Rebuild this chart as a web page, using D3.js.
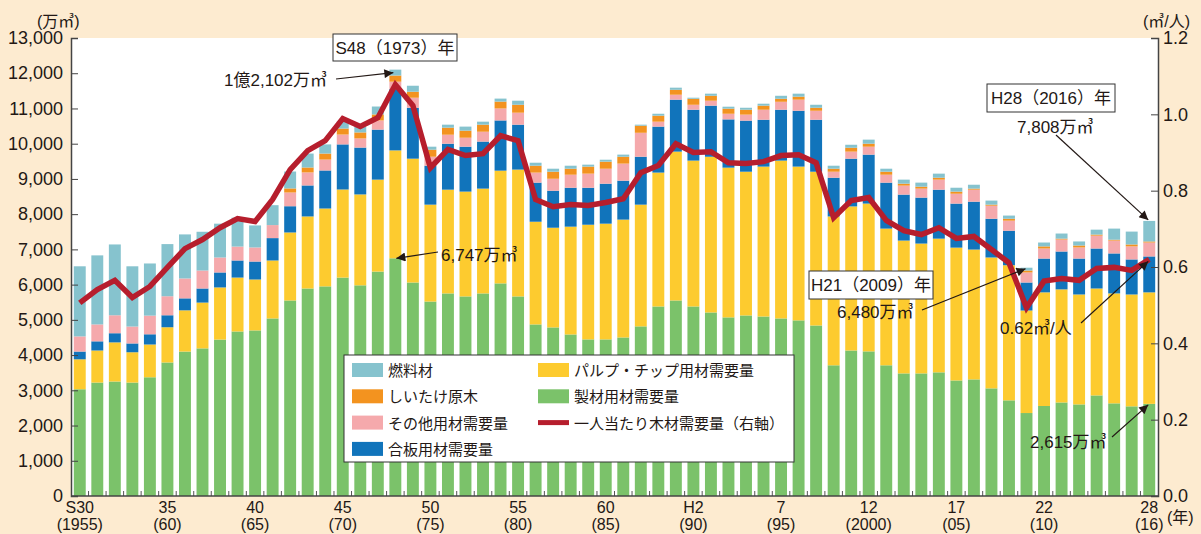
<!DOCTYPE html>
<html>
<head>
<meta charset="utf-8">
<script src="https://cdn.jsdelivr.net/npm/d3@7"></script>
<style>
  body { margin: 0; background: #fdebd0; }
  svg { display: block; font-family: "Liberation Sans", "Noto Sans CJK JP", sans-serif; }
</style>
</head>
<body>
<svg id="chart" width="1201" height="534"></svg>
<script>
// years S30(1955) .. H28(2016)
var years = d3.range(1955, 2017);

// 万m3
var seizai = [3030,3220,3250,3220,3370,3790,4100,4190,4440,4670,4700,5040,5550,5890,5950,6200,5980,6370,6747,6060,
  5520,5750,5665,5750,6035,5665,4870,4785,4585,4445,4445,4500,4815,5380,5550,5380,5210,5070,5125,5095,
  5040,4985,4840,3710,4130,4105,3710,3480,3480,3510,3280,3310,3055,2715,2355,2555,2655,2600,2855,2630,2545,2615];
var pulp = [850,910,1110,860,930,1000,1170,1300,1480,1530,1445,1645,1930,2045,2210,2500,2580,2610,3063,3515,
  2750,2945,2975,2975,3200,3600,2915,2830,3060,3255,3285,3345,3455,3800,4225,4140,4420,4250,4080,4255,
  4480,4365,4365,4225,4090,4195,3880,3770,3685,3795,3770,3685,3715,3835,2910,3225,3210,3120,3035,3120,3175,3165];
var goban = [220,260,260,250,290,340,340,400,425,485,510,635,745,880,1080,1280,1330,1420,1740,1445,
  1105,1305,1275,1335,1425,1275,1110,1050,1105,1050,1135,1105,1360,1305,1475,1445,1450,1370,1450,1330,
  1445,1585,1475,1100,1355,1390,1305,1305,1305,1390,1250,1360,1100,980,795,960,1075,1020,1135,1135,995,1020];
var sonota = [430,480,510,480,530,540,565,510,425,395,400,370,390,370,310,280,260,260,210,285,
  255,255,255,280,340,340,285,340,370,400,425,485,680,140,140,140,140,160,170,285,
  225,315,255,170,200,225,225,255,255,285,280,340,370,285,285,285,340,315,365,365,370,395];
var shiitake = [0,0,0,0,0,0,0,0,0,0,0,0,115,140,170,170,170,170,175,170,
  200,200,200,200,195,225,195,200,170,200,200,195,200,170,140,170,140,145,140,115,
  85,85,85,85,110,85,85,55,55,55,60,30,30,55,55,60,25,55,30,25,55,30];
var nenryo = [1990,1960,2010,1710,1480,1480,1250,1100,960,820,625,565,480,395,260,200,160,225,167,170,
  85,85,115,85,85,115,85,85,85,55,55,60,30,55,60,30,60,55,55,55,
  85,85,85,85,85,115,85,115,115,115,110,110,115,90,80,110,145,115,140,315,365,583];
// m3 per person (right axis)
var perCapita = [0.506,0.541,0.565,0.520,0.549,0.599,0.648,0.672,0.703,0.727,0.719,0.777,0.855,0.905,0.931,0.989,0.968,0.991,1.078,1.023,
  0.860,0.908,0.892,0.897,0.944,0.931,0.777,0.758,0.764,0.761,0.769,0.779,0.847,0.866,0.923,0.900,0.902,0.873,0.871,0.876,
  0.892,0.894,0.873,0.729,0.774,0.782,0.722,0.695,0.685,0.703,0.675,0.680,0.646,0.611,0.493,0.563,0.570,0.565,0.596,0.599,0.591,0.620];

var leftTicks = d3.range(0, 13001, 1000);
var rightTicks = [0, 0.2, 0.4, 0.6, 0.8, 1.0, 1.2];
var labelYears = [1955,1960,1965,1970,1975,1980,1985,1990,1995,2000,2005,2010,2016];
var labelTop = ["S30","35","40","45","50","55","60","H2","7","12","17","22","28"];
var labelBottom = ["(1955)","(60)","(65)","(70)","(75)","(80)","(85)","(90)","(95)","(2000)","(05)","(10)","(16)"];

var keys = ["seizai","pulp","goban","sonota","shiitake","nenryo"];
var colors = {seizai:"#7bc26a", pulp:"#fdcb2f", goban:"#1174bb", sonota:"#f5a9ac", shiitake:"#f3931f", nenryo:"#86c3ce"};
var lineColor = "#b61e2d";

var rows = years.map(function (yr, i) {
  return {year: yr, seizai: seizai[i], pulp: pulp[i], goban: goban[i], sonota: sonota[i],
    shiitake: shiitake[i], nenryo: nenryo[i], pc: perCapita[i]};
});

var pLeft = 71, pRight = 1158, pTop = 38, pBottom = 496;
var svg = d3.select("#chart");

var x = d3.scaleBand().domain(years).range([pLeft, pRight]).paddingInner(0.32).paddingOuter(0.16);
var y = d3.scaleLinear().domain([0, 13000]).range([pBottom, pTop]);
var y2 = d3.scaleLinear().domain([0, 1.2]).range([pBottom, pTop]);

// white plot area
svg.append("rect").attr("x", pLeft).attr("y", pTop).attr("width", pRight - pLeft).attr("height", pBottom - pTop).attr("fill", "#fff");

// bars
var series = d3.stack().keys(keys)(rows);
svg.append("g").selectAll("g").data(series).enter().append("g")
  .attr("fill", function (d) { return colors[d.key]; })
  .selectAll("rect").data(function (d) { return d; }).enter().append("rect")
  .attr("x", function (d) { return x(d.data.year); })
  .attr("width", x.bandwidth())
  .attr("y", function (d) { return y(d[1]); })
  .attr("height", function (d) { return y(d[0]) - y(d[1]); });

// small ticks between bars
var gap = x.step() * x.paddingInner() / 2;
svg.append("g").selectAll("line").data(years.slice(1)).enter().append("line")
  .attr("x1", function (d) { return x(d) - gap; })
  .attr("x2", function (d) { return x(d) - gap; })
  .attr("y1", pBottom).attr("y2", pBottom - 5)
  .attr("stroke", "#555").attr("stroke-width", 1);

// axes
var axL = svg.append("g").attr("transform", "translate(" + pLeft + ",0)")
  .call(d3.axisLeft(y).tickValues(leftTicks).tickSize(-7).tickPadding(8).tickFormat(d3.format(",")));
var axR = svg.append("g").attr("transform", "translate(" + pRight + ",0)")
  .call(d3.axisRight(y2).tickValues(rightTicks).tickSize(-7).tickPadding(5).tickFormat(d3.format(".1f")));
[axL, axR].forEach(function (a) {
  a.select(".domain").attr("stroke", "#444").attr("stroke-width", 1.5);
  a.selectAll(".tick line").attr("stroke", "#444");
  a.selectAll("text").attr("font-size", 18).attr("fill", "#231815")
    .attr("font-family", "'Liberation Sans', 'Noto Sans CJK JP', sans-serif");
});
svg.append("line").attr("x1", pLeft).attr("x2", pRight).attr("y1", pBottom).attr("y2", pBottom)
  .attr("stroke", "#444").attr("stroke-width", 1.5);

// x labels
var xl = svg.append("g").attr("font-size", 16).attr("fill", "#231815").attr("text-anchor", "middle");
labelYears.forEach(function (yr, i) {
  var cx = x(yr) + x.bandwidth() / 2;
  xl.append("text").attr("x", cx).attr("y", 513).text(labelTop[i]);
  xl.append("text").attr("x", cx).attr("y", 530).text(labelBottom[i]);
});
svg.append("text").attr("x", 1167).attr("y", 523).attr("font-size", 16).attr("fill", "#231815").text("(年)");

// unit labels
svg.append("text").attr("x", 37).attr("y", 27).attr("font-size", 16).attr("fill", "#231815").text("(万㎥)");
svg.append("text").attr("x", 1143).attr("y", 27).attr("font-size", 16).attr("fill", "#231815").text("(㎥/人)");

// per-capita line
var line = d3.line()
  .x(function (d) { return x(d.year) + x.bandwidth() / 2; })
  .y(function (d) { return y2(d.pc); });
svg.append("path").datum(rows).attr("d", line)
  .attr("fill", "none").attr("stroke", lineColor).attr("stroke-width", 5.5).attr("stroke-linejoin", "miter");

// legend
var lg = svg.append("g").attr("font-size", 15).attr("fill", "#231815");
lg.append("rect").attr("x", 344).attr("y", 355).attr("width", 450).attr("height", 107)
  .attr("fill", "#fff").attr("stroke", "#333").attr("stroke-width", 1);
var legendItems = [
  {label: "燃料材", key: "nenryo", col: 0, row: 0},
  {label: "しいたけ原木", key: "shiitake", col: 0, row: 1},
  {label: "その他用材需要量", key: "sonota", col: 0, row: 2},
  {label: "合板用材需要量", key: "goban", col: 0, row: 3},
  {label: "パルプ・チップ用材需要量", key: "pulp", col: 1, row: 0},
  {label: "製材用材需要量", key: "seizai", col: 1, row: 1},
  {label: "一人当たり木材需要量（右軸）", key: "line", col: 1, row: 2}
];
legendItems.forEach(function (it) {
  var lx = it.col === 0 ? 352 : 538;
  var ly = 370 + it.row * 26.3;
  if (it.key === "line") {
    lg.append("rect").attr("x", lx).attr("y", ly - 2.5).attr("width", 31).attr("height", 5).attr("fill", lineColor);
  } else {
    lg.append("rect").attr("x", lx).attr("y", ly - 7).attr("width", 31).attr("height", 14).attr("fill", colors[it.key]);
  }
  lg.append("text").attr("x", lx + 36).attr("y", ly + 6).text(it.label);
});

// annotations
var defs = svg.append("defs");
defs.append("marker").attr("id", "arr").attr("viewBox", "0 0 10 10").attr("refX", 10).attr("refY", 5)
  .attr("markerWidth", 11).attr("markerHeight", 9).attr("markerUnits", "userSpaceOnUse").attr("orient", "auto")
  .append("path").attr("d", "M0,0 L10,5 L0,10 z").attr("fill", "#231815");

function cx(yr) { return x(yr) + x.bandwidth() / 2; }
function total(i) { return seizai[i] + pulp[i] + goban[i] + sonota[i] + shiitake[i] + nenryo[i]; }
function arrow(x1, y1, x2, y2) {
  svg.append("line").attr("x1", x1).attr("y1", y1).attr("x2", x2).attr("y2", y2)
    .attr("stroke", "#231815").attr("stroke-width", 1.2).attr("marker-end", "url(#arr)");
}
function boxLabel(bx, by, bw, bh, txt) {
  svg.append("rect").attr("x", bx).attr("y", by).attr("width", bw).attr("height", bh)
    .attr("fill", "#fff").attr("stroke", "#333").attr("stroke-width", 1);
  svg.append("text").attr("x", bx + bw / 2).attr("y", by + bh / 2 + 6).attr("text-anchor", "middle")
    .attr("font-size", 17).attr("fill", "#231815").text(txt);
}
var ann = svg.append("g").attr("font-size", 17).attr("fill", "#231815");

var i73 = 1973 - 1955, i09 = 2009 - 1955, i16 = 2016 - 1955;
boxLabel(333, 34, 124, 27, "S48（1973）年");
ann.append("text").attr("x", 224).attr("y", 86).text("1億2,102万㎥");
arrow(336, 79, cx(1973) - 2, y(total(i73)) + 3);
ann.append("text").attr("x", 441).attr("y", 261).text("6,747万㎥");
arrow(438, 252, cx(1973) + 1, y(seizai[i73]));

boxLabel(809, 271, 124, 28, "H21（2009）年");
ann.append("text").attr("x", 837).attr("y", 318).text("6,480万㎥");
arrow(922, 310, cx(2009) - 1, y(total(i09)) + 1);

ann.append("text").attr("x", 1000).attr("y", 334).text("0.62㎥/人");
arrow(1081, 323, cx(2016) - 1, y2(perCapita[i16]) + 2);

ann.append("text").attr("x", 1030).attr("y", 448).text("2,615万㎥");
arrow(1112, 437, cx(2016) - 1, y(seizai[i16]) + 1);

boxLabel(987, 84, 128, 28, "H28（2016）年");
ann.append("text").attr("x", 1017).attr("y", 133).text("7,808万㎥");
arrow(1056, 135, cx(2016) - 1, y(total(i16)) - 1);
</script>
</body>
</html>
